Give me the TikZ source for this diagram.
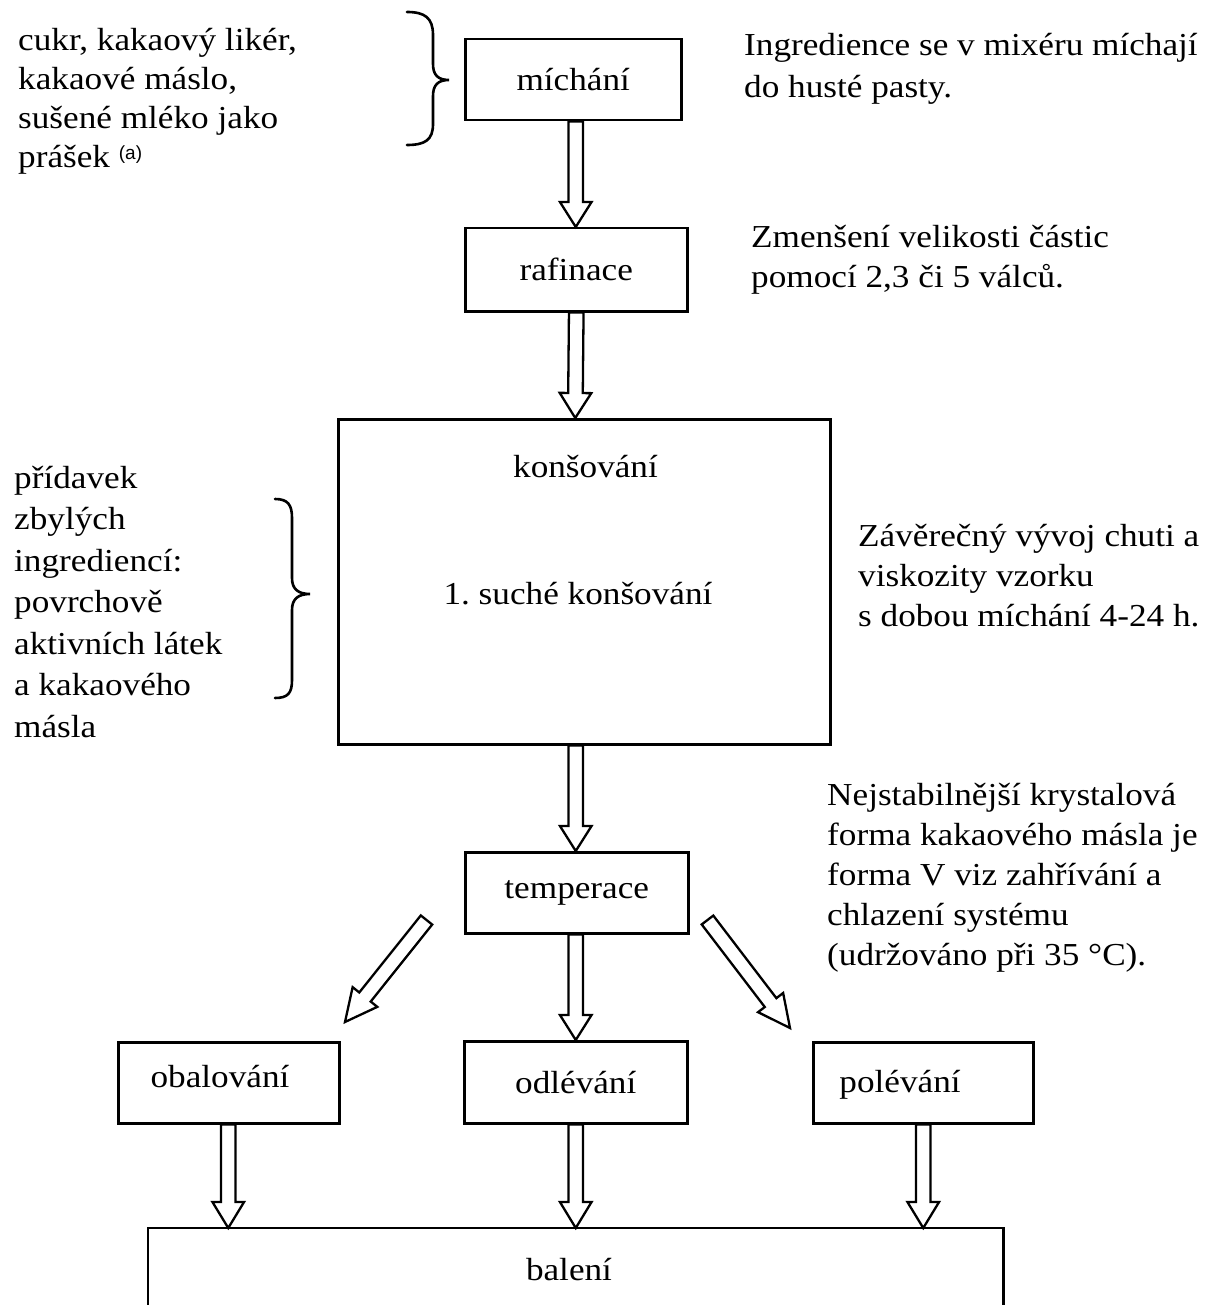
\documentclass[tikz,border=0pt]{standalone}
\usepackage{fontspec}
\setmainfont{Liberation Serif}[FakeStretch=1.1]
\newfontfamily\supfont{Liberation Sans}
\usetikzlibrary{calc}
\frenchspacing
\tikzset{
  boxst/.style={draw, line width=2.5pt, rectangle, inner sep=0pt, anchor=north west,
    font=\fontsize{32}{40}\selectfont},
  txt/.style={inner sep=0pt, anchor=north west, align=left},
  btxt/.style={inner sep=0pt, anchor=base, font=\fontsize{32}{40}\selectfont},
  harrow/.style={draw, line width=2.3pt, line join=miter, fill=white},
  bracest/.style={draw, line width=2.6pt, line cap=round},
}
\newcommand\hollowarrow[3]{%
  \coordinate (hb) at ($(#2)!#3!(#1)$);
  \path[harrow] ($(#1)!7.3pt!90:(#2)$) -- ($(hb)!7.3pt!90:(#2)$) -- ($(hb)!15.8pt!90:(#2)$)
    -- (#2) -- ($(hb)!15.8pt!-90:(#2)$) -- ($(hb)!7.3pt!-90:(#2)$) -- ($(#1)!7.3pt!-90:(#2)$) -- cycle;
}
\begin{document}
\begin{tikzpicture}[x=1pt, y=-1pt]
\useasboundingbox (0,0) rectangle (1221,1305);

% boxes
\node[boxst, minimum width=216pt, minimum height=81pt] (mix) at (464,38) {míchání};
\node[boxst, minimum width=222pt, minimum height=83pt] (raf) at (464,227) {rafinace};
\node[boxst, minimum width=492pt, minimum height=325pt] (kons) at (337,418) {};
\node[boxst, minimum width=223pt, minimum height=81pt] (temp) at (464,851) {temperace};
\node[boxst, minimum width=221pt, minimum height=81pt] (obal) at (117,1041) {};
\node[boxst, minimum width=223pt, minimum height=82pt] (odl) at (463,1040) {odlévání};
\node[boxst, minimum width=220pt, minimum height=81pt] (pol) at (812,1041) {};
\node[boxst, draw=none, minimum width=853pt, minimum height=77pt] (bal) at (148,1228) {};
\draw[line width=2.5pt] (bal.south west) -- (bal.north west) -- (bal.north east) -- (bal.south east);

% texts inside boxes
\node[btxt] (konsT) at (585.5,477) {konšování};
\node[btxt] (konsD) at (578,604) {1. suché konšování};
\node[btxt] (obalT) at (220,1087) {obalování};
\node[btxt] (polT) at (900,1092) {polévání};
\node[btxt] (balT) at (569,1280) {balení};

% side texts
\node[txt, font=\fontsize{32}{39}\selectfont] (ingr) at (18,28)
  {cukr, kakaový likér,\\kakaové máslo,\\sušené mléko jako\\prášek {\supfont\fontsize{19}{19}\selectfont\raisebox{8pt}{(a)}}};
\node[txt, font=\fontsize{32}{41.5}\selectfont] (addT) at (14,466)
  {přídavek\\zbylých\\ingrediencí:\\povrchově\\aktivních látek\\a kakaového\\másla};
\node[txt, font=\fontsize{32}{42}\selectfont] (r1) at (744,33)
  {Ingredience se v mixéru míchají\\do husté pasty.};
\node[txt, font=\fontsize{32}{40}\selectfont] (r2) at (751,225)
  {Zmenšení velikosti částic\\pomocí 2,3 či 5 válců.};
\node[txt, font=\fontsize{32}{40}\selectfont] (r3) at (858,524)
  {Závěrečný vývoj chuti a\\viskozity vzorku\\s dobou míchání 4-24 h.};
\node[txt, font=\fontsize{32}{40}\selectfont] (r4) at (827,783)
  {Nejstabilnější krystalová\\forma kakaového másla je\\forma V viz zahřívání a\\chlazení systému\\(udržováno při 35 °C).};

% braces
\path[bracest] (407,12) .. controls (425,12) and (433,18) .. (433,35) -- (433,64)
  .. controls (433,75) and (438,80) .. (449,80)
  .. controls (438,80) and (433,85) .. (433,96) -- (433,124)
  .. controls (433,140) and (425,145) .. (407,145);
\path[bracest] (275,499) .. controls (288,499) and (292,505) .. (292,518) -- (292,578)
  .. controls (292,589) and (298,594) .. (310,594)
  .. controls (298,594) and (292,599) .. (292,610) -- (292,680)
  .. controls (292,693) and (288,698) .. (275,698);

% hollow arrows
\coordinate (a1s) at ([xshift=2.5pt]mix.south);
\coordinate (a1e) at ([xshift=-0.5pt]raf.north);
\hollowarrow{a1s}{a1e}{25pt}
\coordinate (a2s) at (raf.south);
\coordinate (a2e) at ([xshift=-9pt]kons.north);
\hollowarrow{a2s}{a2e}{25pt}
\coordinate (a3s) at ([xshift=-8.5pt]kons.south);
\coordinate (a3e) at ([xshift=-1pt]temp.north);
\hollowarrow{a3s}{a3e}{25pt}
\coordinate (a4s) at ([xshift=-1pt]temp.south);
\coordinate (a4e) at (odl.north);
\hollowarrow{a4s}{a4e}{25pt}
\coordinate (dl1) at (426.5,920);
\coordinate (dl2) at (345,1022);
\hollowarrow{dl1}{dl2}{32pt}
\coordinate (dr1) at (707.5,920);
\coordinate (dr2) at (790,1028);
\hollowarrow{dr1}{dr2}{32pt}
\coordinate (b1s) at ([xshift=-0.5pt]obal.south);
\coordinate (b1e) at ([xshift=-347.5pt]bal.north);
\hollowarrow{b1s}{b1e}{26pt}
\coordinate (b2s) at (odl.south);
\coordinate (b2e) at (bal.north);
\hollowarrow{b2s}{b2e}{26pt}
\coordinate (b3s) at (pol.south);
\coordinate (b3e) at ([xshift=347.5pt]bal.north);
\hollowarrow{b3s}{b3e}{26pt}
\end{tikzpicture}
\end{document}
